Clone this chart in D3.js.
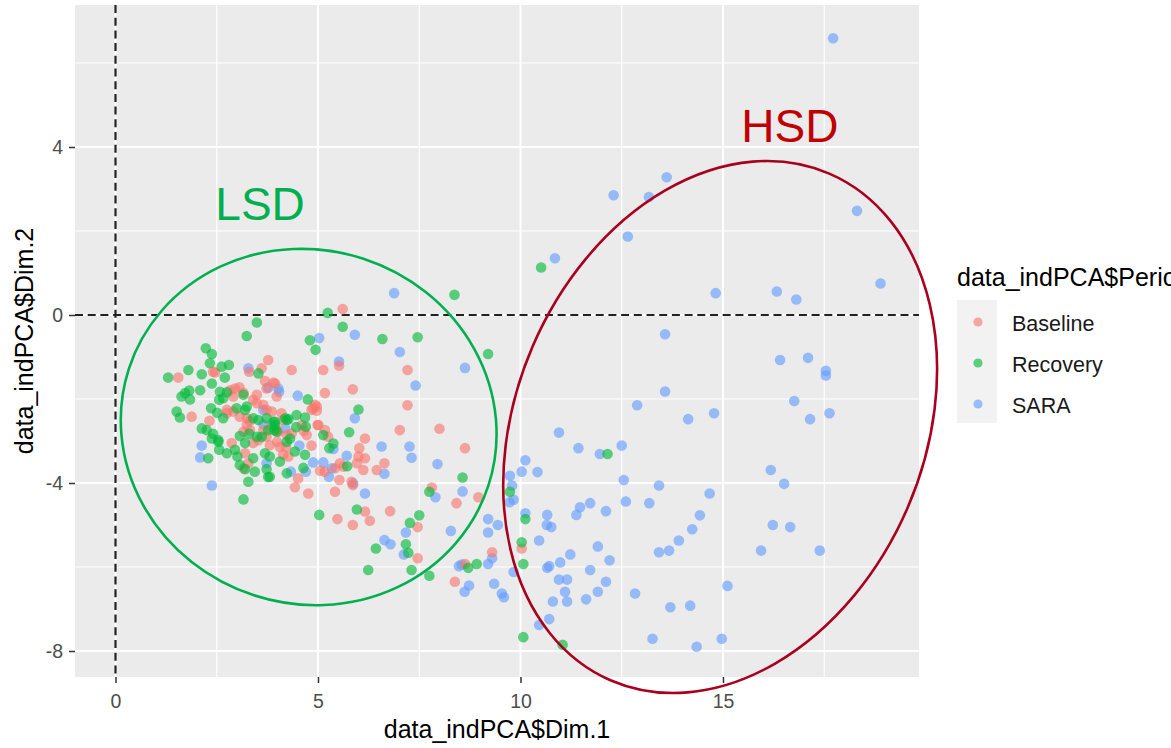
<!DOCTYPE html>
<html>
<head>
<meta charset="utf-8">
<script src="https://cdn.jsdelivr.net/npm/d3@7"></script>
<style>
  html, body { margin: 0; padding: 0; background: #ffffff; }
  svg { display: block; font-family: "Liberation Sans", Arial, sans-serif; }
</style>
</head>
<body>
<svg id="chart" width="1171" height="748"></svg>
<script>
// ---------------- data ----------------
const categories = ["Baseline", "Recovery", "SARA"];
const colors = ["#F8766D", "#00BA38", "#619CFF"];

const xTicks = [0, 5, 10, 15];
const yTicks = [-8, -4, 0, 4];
const xMinor = [2.5, 7.5, 12.5, 17.5];
const yMinor = [-6, -2, 2, 6];

const baseline = [
[5.61,0.14],[3.77,-1.07],[3.61,-1.27],[3.30,-1.35],[4.35,-1.31],[5.13,-1.31],[5.52,-1.21],[1.55,-1.49],[2.41,-1.35],[3.69,-1.57],
[3.94,-1.63],[5.86,-1.77],[5.17,-1.86],[1.88,-2.42],[2.32,-2.52],[2.83,-1.79],[2.95,-1.75],[3.06,-1.72],[3.16,-1.85],[2.91,-1.94],
[3.40,-2.02],[3.49,-2.10],[3.65,-2.14],[3.73,-2.26],[4.88,-2.22],[4.97,-2.18],[5.01,-2.62],[5.17,-2.74],[5.25,-2.90],[6.16,-2.94],
[7.02,-2.74],[2.75,-2.34],[2.91,-2.30],[3.07,-2.42],[3.24,-2.46],[3.32,-2.52],[3.65,-2.74],[3.73,-2.90],[3.86,-2.66],[4.02,-2.78],
[4.23,-2.86],[4.35,-2.82],[4.60,-2.62],[4.65,-2.76],[4.84,-3.11],[2.87,-3.05],[3.20,-3.29],[3.28,-3.53],[3.16,-3.65],[4.14,-3.33],
[4.21,-3.14],[4.51,-3.89],[4.43,-4.10],[4.76,-4.25],[5.05,-3.71],[5.17,-3.73],[5.54,-3.53],[5.63,-3.61],[5.42,-3.65],[5.53,-3.93],
[5.42,-4.21],[5.83,-3.97],[6.00,-3.37],[5.96,-3.53],[6.12,-3.69],[6.16,-3.41],[6.45,-3.69],[6.64,-3.53],[6.16,-4.68],[6.28,-4.90],
[5.48,-4.86],[5.86,-5.00],[6.78,-4.67],[7.21,-1.31],[7.21,-2.15],[8.00,-2.71],[8.63,-3.17],[7.81,-4.11],[7.46,-5.05],[7.46,-5.79],
[8.42,-4.48],[8.96,-4.34],[9.30,-5.65],[8.63,-5.93],[8.38,-6.35],[10.03,-5.56],[6.02,-3.17],[5.86,-4.05],[3.99,-3.02],[4.06,-3.14],
[4.27,-3.37],[2.46,-1.37],[2.75,-2.26],[3.49,-1.90],[3.73,-1.75],[3.98,-1.94],[3.24,-2.62],[3.32,-2.74],[3.16,-2.78],[3.40,-3.05],
[3.53,-2.98],[3.98,-2.74],[3.81,-3.10],[4.93,-2.14],[4.97,-2.28],[4.84,-2.26],[4.10,-2.34],[3.86,-2.30],[4.14,-2.50],[4.99,-2.62],
[4.72,-2.86],[3.90,-1.61]
];

const recovery = [
[10.51,1.13],[8.37,0.48],[5.24,0.05],[5.61,-0.28],[6.59,-0.57],[7.46,-0.53],[4.80,-0.60],[4.94,-0.83],[3.49,-0.18],[3.24,-0.50],
[9.20,-0.93],[12.15,-3.31],[8.57,-3.87],[7.75,-4.21],[9.74,-4.21],[7.50,-4.77],[7.27,-4.95],[10.12,-4.86],[7.17,-5.46],[7.23,-5.66],
[7.31,-6.07],[7.75,-6.21],[10.03,-5.41],[10.07,-5.93],[8.71,-6.02],[8.92,-5.93],[10.07,-7.67],[11.04,-7.85],[5.03,-4.76],[5.96,-4.63],
[6.43,-5.56],[6.24,-6.07],[4.68,-3.33],[4.64,-3.64],[4.23,-3.77],[4.06,-3.49],[3.81,-3.85],[5.38,-3.06],[5.28,-3.17],[4.23,-3.02],
[5.72,-3.60],[4.75,-2.01],[6.00,-2.25],[5.77,-2.79],[5.13,-2.86],[4.47,-2.38],[4.68,-2.44],[4.23,-2.50],[3.94,-2.54],[4.46,-2.67],
[3.98,-2.78],[4.31,-2.94],[2.23,-0.79],[2.38,-0.93],[2.33,-1.15],[2.80,-1.19],[2.62,-1.23],[1.80,-1.31],[1.30,-1.49],[2.13,-1.41],
[2.70,-1.49],[2.38,-1.63],[3.53,-1.39],[2.09,-1.79],[1.82,-1.80],[1.72,-1.86],[1.63,-1.94],[1.84,-2.01],[2.58,-1.83],[2.75,-1.84],
[2.66,-1.98],[2.56,-2.02],[3.16,-1.90],[1.51,-2.30],[1.59,-2.44],[2.36,-2.22],[2.51,-2.33],[2.66,-2.46],[2.99,-2.22],[3.20,-2.26],
[2.13,-2.70],[2.25,-2.74],[2.41,-2.83],[2.54,-2.98],[2.38,-2.94],[3.07,-2.88],[3.30,-2.83],[3.49,-2.90],[3.40,-2.46],[3.53,-2.50],
[3.24,-2.18],[3.90,-2.54],[3.77,-2.74],[3.61,-2.90],[2.54,-3.02],[2.56,-3.21],[2.75,-3.29],[2.95,-3.21],[2.29,-3.41],[3.20,-3.05],
[3.01,-3.37],[3.07,-3.57],[3.20,-3.67],[3.40,-3.41],[3.44,-3.73],[3.28,-3.97],[3.16,-4.39],[3.69,-3.29],[3.81,-3.37],[3.73,-3.67],
[3.77,-3.86],[3.73,-2.46],[3.94,-2.62],[3.92,-2.74],[4.19,-2.46],[4.27,-2.48],[4.70,-2.66],[4.43,-3.25]
];

const sara = [
[17.72,6.59],[13.61,3.28],[12.30,2.85],[13.17,2.81],[12.65,1.87],[18.31,2.48],[18.89,0.75],[14.82,0.52],[16.33,0.56],[16.81,0.37],
[13.57,-0.46],[16.41,-1.07],[17.10,-1.02],[17.54,-1.33],[17.54,-1.44],[13.57,-1.82],[12.88,-2.15],[14.14,-2.48],[14.78,-2.34],[16.76,-2.05],
[17.15,-2.48],[17.63,-2.34],[12.50,-3.11],[16.18,-3.69],[16.51,-4.02],[13.42,-4.06],[13.18,-4.48],[14.67,-4.25],[14.43,-4.77],[14.24,-5.10],
[13.91,-5.37],[13.42,-5.65],[13.67,-5.61],[16.23,-5.00],[16.66,-5.05],[15.94,-5.61],[17.39,-5.61],[15.11,-6.45],[13.70,-6.96],[14.19,-6.92],
[13.26,-7.71],[14.97,-7.71],[14.35,-7.90],[10.85,1.35],[6.88,0.52],[7.02,-0.88],[8.63,-1.26],[7.41,-1.68],[10.95,-2.80],[11.43,-3.17],
[11.96,-3.31],[6.57,-3.13],[7.26,-3.13],[7.31,-3.40],[7.95,-3.55],[6.64,-3.78],[10.12,-3.46],[10.03,-3.73],[10.42,-3.74],[9.74,-3.83],
[9.79,-4.06],[12.55,-3.93],[12.60,-4.44],[11.72,-4.48],[11.47,-4.58],[11.38,-4.76],[12.11,-4.67],[9.73,-4.46],[9.83,-4.40],[10.12,-4.72],
[10.66,-4.76],[10.65,-5.00],[10.76,-5.05],[10.46,-5.37],[10.98,-5.89],[11.23,-5.70],[10.66,-6.02],[10.71,-5.98],[11.91,-5.51],[12.20,-5.84],
[11.72,-6.07],[10.95,-6.30],[11.15,-6.30],[11.10,-6.59],[10.80,-6.82],[11.15,-6.82],[11.62,-6.77],[11.91,-6.59],[12.11,-6.35],[12.83,-6.63],
[10.71,-7.24],[10.46,-7.38],[9.20,-4.86],[9.44,-5.00],[9.20,-5.18],[8.28,-5.14],[6.64,-5.36],[6.79,-5.46],[7.17,-5.18],[7.12,-5.70],
[7.90,-4.34],[8.57,-4.20],[8.48,-5.98],[8.55,-5.94],[9.20,-5.93],[9.30,-5.79],[9.83,-6.12],[8.73,-6.44],[8.62,-6.59],[9.35,-6.40],
[9.54,-6.63],[9.59,-6.72],[5.03,-0.55],[5.91,-0.47],[3.28,-1.27],[5.52,-1.11],[3.77,-1.73],[4.02,-1.75],[4.04,-1.83],[4.50,-1.92],
[5.91,-2.46],[3.65,-2.60],[3.65,-2.26],[4.19,-2.70],[2.13,-3.11],[2.09,-3.39],[2.38,-4.06],[4.54,-3.11],[5.38,-3.19],[4.88,-3.51],
[5.13,-3.51],[5.34,-3.65],[5.27,-3.85],[5.71,-3.35],[5.87,-4.01],[6.16,-4.25],[3.73,-3.53],[4.33,-3.73],[4.70,-3.73]
];

// annotation ellipses (data units for centre / semi-axes, tilt in degrees)
const groups = [
  { label: "LSD", cx: 4.77, cy: -2.667, rx: 4.667, ry: 4.214, tilt: 18, color: "#00B050", textColor: "#00B050", tx: 3.57, ty: 2.26 },
  { label: "HSD", cx: 14.93, cy: -2.667, rx: 5.04, ry: 6.57, tilt: 23.3, color: "#A8001E", textColor: "#C00000", tx: 16.65, ty: 4.12 }
];

// ---------------- layout ----------------
const svg = d3.select("#chart");
const P = { left: 75, right: 919, top: 5, bottom: 677 };

const x = d3.scaleLinear().domain([-1.0, 19.84]).range([P.left, P.right]);
const y = d3.scaleLinear().domain([-8.619, 7.381]).range([P.bottom, P.top]);

// panel background
svg.append("rect")
  .attr("x", P.left).attr("y", P.top)
  .attr("width", P.right - P.left).attr("height", P.bottom - P.top)
  .attr("fill", "#EBEBEB");

const grid = svg.append("g");
grid.selectAll("line.xm").data(xMinor).join("line")
  .attr("x1", d => x(d)).attr("x2", d => x(d)).attr("y1", P.top).attr("y2", P.bottom)
  .attr("stroke", "#fff").attr("stroke-width", 1.1);
grid.selectAll("line.ym").data(yMinor).join("line")
  .attr("y1", d => y(d)).attr("y2", d => y(d)).attr("x1", P.left).attr("x2", P.right)
  .attr("stroke", "#fff").attr("stroke-width", 1.1);
grid.selectAll("line.xM").data(xTicks).join("line")
  .attr("x1", d => x(d)).attr("x2", d => x(d)).attr("y1", P.top).attr("y2", P.bottom)
  .attr("stroke", "#fff").attr("stroke-width", 2);
grid.selectAll("line.yM").data(yTicks).join("line")
  .attr("y1", d => y(d)).attr("y2", d => y(d)).attr("x1", P.left).attr("x2", P.right)
  .attr("stroke", "#fff").attr("stroke-width", 2);

// reference dashed lines at 0
svg.append("line")
  .attr("x1", x(0)).attr("x2", x(0)).attr("y1", P.top).attr("y2", P.bottom)
  .attr("stroke", "#222").attr("stroke-width", 2.2).attr("stroke-dasharray", "8,4.7");
svg.append("line")
  .attr("x1", P.left).attr("x2", P.right).attr("y1", y(0)).attr("y2", y(0))
  .attr("stroke", "#222").attr("stroke-width", 2.2).attr("stroke-dasharray", "8,4.7");

// points
const series = [baseline, recovery, sara];
const ptsG = svg.append("g");
[2, 0, 1].forEach(i => {
  ptsG.append("g").selectAll("circle").data(series[i]).join("circle")
    .attr("cx", d => x(d[0])).attr("cy", d => y(d[1])).attr("r", 5.3)
    .attr("fill", colors[i]).attr("fill-opacity", 0.62);
});

// axes
const xAxis = svg.append("g").attr("transform", `translate(0,${P.bottom})`)
  .call(d3.axisBottom(x).tickValues(xTicks).tickSize(6).tickPadding(11).tickFormat(d => String(d)));
const yAxis = svg.append("g").attr("transform", `translate(${P.left},0)`)
  .call(d3.axisLeft(y).tickValues(yTicks).tickSize(6).tickPadding(6).tickFormat(d => String(d)));
[xAxis, yAxis].forEach(a => {
  a.select(".domain").remove();
  a.selectAll(".tick line").attr("stroke", "#333").attr("stroke-width", 1.5);
  a.selectAll(".tick text").attr("fill", "#4D4D4D").style("font-size", "19.5px")
    .style("font-family", "'Liberation Sans', Arial, sans-serif");
});

// axis titles
svg.append("text").attr("x", (P.left + P.right) / 2).attr("y", 738)
  .attr("text-anchor", "middle").style("font-size", "25px").attr("fill", "#000")
  .text("data_indPCA$Dim.1");
svg.append("text").attr("transform", `translate(33,${(P.top + P.bottom) / 2}) rotate(-90)`)
  .attr("text-anchor", "middle").style("font-size", "25px").attr("fill", "#000")
  .text("data_indPCA$Dim.2");

// ellipses + labels
groups.forEach(g => {
  const cx = x(g.cx), cy = y(g.cy);
  const rx = x(g.cx + g.rx) - x(g.cx);
  const ry = y(g.cy) - y(g.cy + g.ry);
  svg.append("ellipse")
    .attr("cx", 0).attr("cy", 0).attr("rx", rx).attr("ry", ry)
    .attr("transform", `translate(${cx},${cy}) rotate(${g.tilt})`)
    .attr("fill", "none").attr("stroke", g.color).attr("stroke-width", 2.6);
  svg.append("text").attr("x", x(g.tx)).attr("y", y(g.ty))
    .attr("text-anchor", "middle").style("font-size", "46px").attr("fill", g.textColor)
    .text(g.label);
});

// legend
const L = svg.append("g");
L.append("text").attr("x", 957).attr("y", 286).style("font-size", "25px").attr("fill", "#000")
  .text("data_indPCA$Period");
categories.forEach((c, i) => {
  const ky = 300 + i * 41;
  L.append("rect").attr("x", 957).attr("y", ky).attr("width", 40).attr("height", 41).attr("fill", "#F2F2F2");
  L.append("circle").attr("cx", 978).attr("cy", ky + 22).attr("r", 4.6)
    .attr("fill", colors[i]).attr("fill-opacity", 0.62);
  L.append("text").attr("x", 1012).attr("y", ky + 31).style("font-size", "21.5px").attr("fill", "#1a1a1a")
    .text(c);
});
</script>
</body>
</html>
